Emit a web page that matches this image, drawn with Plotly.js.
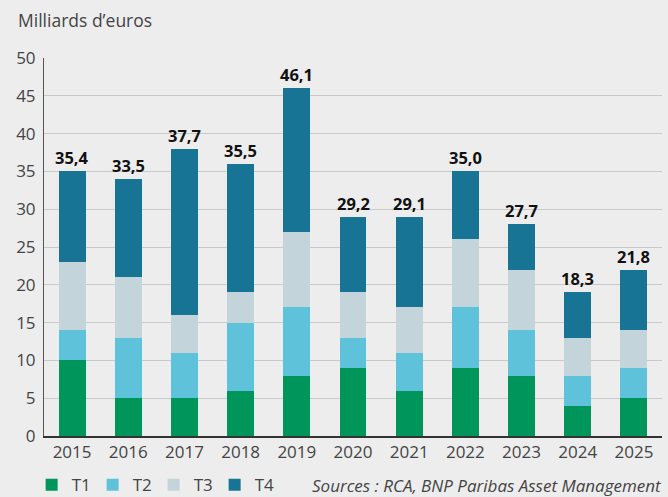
<!DOCTYPE html>
<html>
<head>
<meta charset="utf-8">
<script src="https://cdn.plot.ly/plotly-3.0.1.min.js"></script>
<style>html,body{margin:0;padding:0;background:#ededed;}#chart{width:668px;height:497px;}</style>
</head>
<body>
<div id="chart"></div>
<script>
const years = ['2015','2016','2017','2018','2019','2020','2021','2022','2023','2024','2025'];
const t1 = [10, 5, 5, 6, 8, 9, 6, 9, 8, 4, 5];
const t2 = [4, 8, 6, 9, 9, 4, 5, 8, 6, 4, 4];
const t3 = [9, 8, 5, 4, 10, 6, 6, 9, 8, 5, 5];
const t4 = [12, 13, 22, 17, 19, 10, 12, 9, 6, 6, 8];
const totals = [35.4, 33.5, 37.7, 35.5, 46.1, 29.2, 29.1, 35.0, 27.7, 18.3, 21.8];
const seriesNames = ['T1', 'T2', 'T3', 'T4'];
const colors = ['#00955b', '#5ec3da', '#c3d5da', '#177494'];
const yTicks = [0, 5, 10, 15, 20, 25, 30, 35, 40, 45, 50];

const font = 'Open Sans, sans-serif';
const series = [t1, t2, t3, t4];
const data = series.map((vals, i) => ({
  type: 'bar', x: years, y: vals, name: seriesNames[i],
  marker: {color: colors[i], line: {width: 0}},
  hoverinfo: 'skip'
}));

const annotations = years.map((yr, i) => ({
  x: i, y: t1[i] + t2[i] + t3[i] + t4[i], xref: 'x', yref: 'y',
  text: '<b>' + totals[i].toFixed(1).replace('.', ',') + '</b>', showarrow: false,
  yanchor: 'bottom', yshift: 0,
  font: {family: font, size: 16.5, color: '#111'}
}));
annotations.push({
  xref: 'paper', yref: 'paper', x: 0, y: 1, xanchor: 'left', yanchor: 'middle',
  yshift: 38, xshift: -28,
  text: 'Milliards d\u2019euros', showarrow: false,
  font: {family: font, size: 17.5, color: '#444'}
});
annotations.push({
  xref: 'paper', yref: 'paper', x: 1, y: 0, xanchor: 'right', yanchor: 'middle',
  yshift: -49, xshift: 2,
  text: '<i>Sources : RCA, BNP Paribas Asset Management</i>', showarrow: false,
  font: {family: font, size: 17, color: '#444'}
});

const layout = {
  width: 668, height: 497,
  margin: {l: 44, r: 6, t: 58, b: 61, autoexpand: false},
  paper_bgcolor: '#ededed', plot_bgcolor: '#ededed',
  barmode: 'stack', bargap: 0.52,
  font: {family: font, size: 17, color: '#444'},
  xaxis: {
    type: 'category', range: [-0.5, 10.5], showgrid: false,
    showline: true, linecolor: '#333', linewidth: 1.5, ticks: '',
    tickfont: {family: font, size: 17, color: '#444'}, fixedrange: true
  },
  yaxis: {
    range: [0, 50], tickvals: yTicks, ticktext: yTicks.map(String),
    showgrid: true, gridcolor: '#c9c9c9', gridwidth: 1,
    showline: true, linecolor: '#555', linewidth: 1, ticks: '',
    zeroline: false, ticklabelstandoff: 4,
    tickfont: {family: font, size: 17, color: '#444'}, fixedrange: true
  },
  showlegend: true,
  legend: {
    orientation: 'h', x: -0.02, y: -0.13, xanchor: 'left', yanchor: 'middle', yref: 'paper',
    entrywidth: 16, entrywidthmode: 'pixels', traceorder: 'normal',
    font: {family: font, size: 17, color: '#444'}, bgcolor: 'rgba(0,0,0,0)',
    itemclick: false, itemdoubleclick: false
  },
  annotations: annotations
};
Plotly.newPlot('chart', data, layout, {displayModeBar: false, staticPlot: true});
</script>
</body>
</html>
